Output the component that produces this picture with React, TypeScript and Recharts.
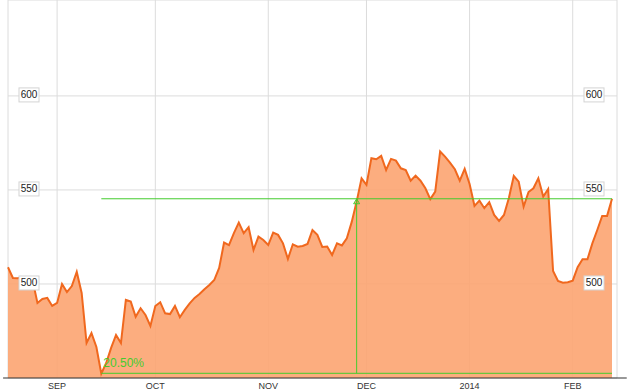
import React from 'react';
import { AreaChart, Area, XAxis, YAxis, CartesianGrid, ReferenceLine, ReferenceDot } from 'recharts';

// daily closes, Aug 19 2013 .. Feb 13 2014 (one point per trading day)
const PRICES = [
  508.9, 503.2, 503.0, 503.7, 502.7, 502.1, 489.9, 492.0, 492.6, 488.3,
  489.9, 500.0, 495.7, 498.9, 506.4, 495.2, 468.6, 473.9, 466.5, 452.3,
  458.0, 466.0, 472.9, 468.6, 491.5, 490.6, 482.6, 487.1, 483.5, 477.7,
  488.3, 490.3, 484.4, 484.0, 488.3, 482.3, 486.2, 489.7, 492.6, 494.7,
  497.2, 499.5, 502.1, 508.5, 522.0, 520.7, 527.0, 532.6, 527.0, 530.2,
  518.1, 525.2, 523.4, 520.7, 527.3, 526.1, 521.6, 513.3, 521.1, 519.8,
  520.2, 521.3, 528.7, 526.1, 519.7, 519.9, 515.4, 521.6, 520.5, 524.3,
  533.0, 543.8, 556.2, 552.7, 566.9, 566.3, 568.1, 560.6, 566.5, 565.6,
  561.5, 560.6, 554.9, 557.6, 554.9, 550.9, 545.1, 549.1, 570.4, 567.7,
  564.5, 561.0, 554.9, 561.2, 553.2, 541.5, 544.3, 540.3, 543.5, 536.7,
  533.5, 536.7, 545.7, 557.4, 554.4, 541.1, 548.9, 550.9, 556.2, 546.5,
  550.5, 506.9, 501.6, 500.7, 500.9, 501.8, 508.9, 513.1, 513.1, 521.6,
  528.7, 536.2, 536.2, 545.3,
];

// index of the first trading day of each month
const MONTH_TICKS = [10, 30, 53, 73, 94, 115];
const MONTH_LABELS = ['SEP', 'OCT', 'NOV', 'DEC', '2014', 'FEB'];
const Y_TICKS = [500, 550, 600];

// low -> current measurement
const LOW_INDEX = 19;
const CROSS_INDEX = 71;
const LOW_LEVEL = 452.5;
const HIGH_LEVEL = 545.3;
const CHANGE_LABEL = '20.50%';

const ORANGE = '#F0681E';
const FILL = '#FCA471';
const GREEN = '#44CC2E';
const FONT = 'Arial, "Liberation Sans", sans-serif';

const rows = PRICES.map((v, i) => ({ i, v }));

const MonthTick = (props: any) => {
  const { x, y, payload } = props;
  const idx = MONTH_TICKS.indexOf(payload.value);
  if (idx < 0) return null;
  return (
    <text x={x} y={y + 8} textAnchor="middle" dominantBaseline="central" fontSize={9} fontFamily={FONT} fill="#333">
      {MONTH_LABELS[idx]}
    </text>
  );
};

const EmptyTick = () => <g />;

const PriceBox = ({ left, y, value }: { left: number; y: number; value: number }) => (
  <g>
    <rect x={left} y={y - 8} width={20} height={14} fill="#fff" stroke="#d4d4d4" />
    <text x={left + 10} y={y - 1} textAnchor="middle" dominantBaseline="central" fontSize={10} fontFamily={FONT} fill="#222">
      {value}
    </text>
  </g>
);

// boxed price label at both ends of a gridline, drawn above the area
const priceLabel = (value: number) => (p: any) => {
  const vb = p.viewBox;
  return (
    <g>
      <PriceBox left={vb.x + 11} y={vb.y} value={value} />
      <PriceBox left={vb.x + vb.width - 33} y={vb.y} value={value} />
    </g>
  );
};

export default function App() {
  return (
    <div style={{ position: 'absolute', left: 0, top: 0, width: 629, height: 392, background: '#fff' }}>
      <AreaChart width={629} height={392} data={rows} margin={{ top: 0, right: 12, bottom: 0, left: 8 }}>
        <CartesianGrid stroke="#dcdcdc" />
        <XAxis
          type="number"
          dataKey="i"
          domain={[0, rows.length - 1]}
          padding={{ left: 0, right: 5 }}
          ticks={[0, ...MONTH_TICKS]}
          interval={0}
          axisLine={false}
          tickLine={false}
          tickSize={0}
          tickMargin={0}
          height={14}
          tick={<MonthTick />}
        />
        <YAxis
          domain={[450, 651]}
          ticks={Y_TICKS}
          width={1}
          mirror
          interval={0}
          axisLine={false}
          tickLine={false}
          tick={<EmptyTick />}
        />
        <Area
          type="linear"
          dataKey="v"
          stroke={ORANGE}
          strokeWidth={2}
          fill={FILL}
          fillOpacity={0.9}
          dot={false}
          activeDot={false}
          isAnimationActive={false}
        />
        <ReferenceLine
          segment={[{ x: -1, y: 450 }, { x: rows.length + 2, y: 450 }]}
          stroke="#333"
          strokeWidth={1.2}
          ifOverflow="visible"
        />
        <ReferenceLine
          segment={[{ x: LOW_INDEX, y: HIGH_LEVEL }, { x: rows.length - 1, y: HIGH_LEVEL }]}
          stroke={GREEN}
          ifOverflow="visible"
        />
        <ReferenceLine
          segment={[{ x: LOW_INDEX, y: LOW_LEVEL }, { x: rows.length - 1, y: LOW_LEVEL }]}
          stroke={GREEN}
          ifOverflow="visible"
          label={(p: any) => (
            <text x={p.viewBox.x + 2} y={p.viewBox.y - 6} fontSize={12} fontFamily={FONT} fill={GREEN}>
              {CHANGE_LABEL}
            </text>
          )}
        />
        <ReferenceLine
          segment={[{ x: CROSS_INDEX, y: LOW_LEVEL }, { x: CROSS_INDEX, y: HIGH_LEVEL }]}
          stroke={GREEN}
          ifOverflow="visible"
        />
        <ReferenceDot
          x={CROSS_INDEX}
          y={HIGH_LEVEL}
          ifOverflow="visible"
          shape={(p: any) => (
            <path d={`M${p.cx},${p.cy} L${p.cx - 3},${p.cy + 5} L${p.cx + 3},${p.cy + 5} Z`} fill="none" stroke={GREEN} />
          )}
        />
        {Y_TICKS.map((t) => (
          <ReferenceLine key={t} y={t} stroke="none" label={priceLabel(t)} />
        ))}
      </AreaChart>
    </div>
  );
}
